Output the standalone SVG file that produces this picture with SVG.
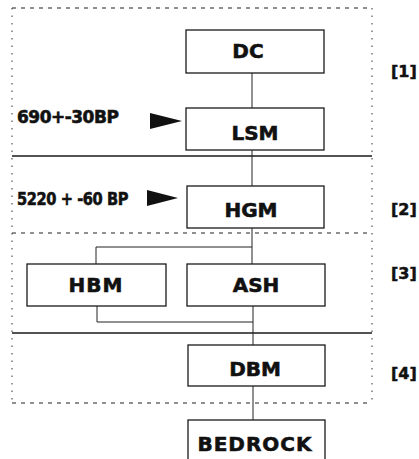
<svg xmlns="http://www.w3.org/2000/svg" width="419" height="459" viewBox="0 0 419 459">
<style>
.bg{fill:#ffffff}
.box{fill:#ffffff;stroke:#1a1a1a;stroke-width:1.3}
.lbl{font-family:"DejaVu Sans",sans-serif;font-weight:bold;font-size:20px;fill:#111;stroke:#111;stroke-width:0.6;text-anchor:middle}
.side{font-family:"DejaVu Sans",sans-serif;font-weight:bold;font-size:16px;fill:#111;stroke:#111;stroke-width:0.5}
.date{font-family:"DejaVu Sans",sans-serif;font-weight:bold;font-size:17px;fill:#111;stroke:#111;stroke-width:0.6;letter-spacing:-0.5px}
.conn{fill:none;stroke:#222;stroke-width:1}
.dashh{fill:none;stroke:#222;stroke-width:1.2;stroke-dasharray:4 5}
.doth{fill:none;stroke:#333;stroke-width:1;stroke-dasharray:1.5 6}
.solid{fill:none;stroke:#1a1a1a;stroke-width:1.4}
.arrow{fill:#111}
</style>
<rect class="bg" x="0" y="0" width="419" height="459"/>
<g id="frame">
<line class="dashh" x1="12" y1="8" x2="372" y2="8"/>
<line class="doth" x1="12" y1="8" x2="12" y2="403"/>
<line class="doth" x1="372" y1="8" x2="372" y2="403"/>
<line class="solid" x1="12" y1="156" x2="372" y2="156"/>
<line class="dashh" x1="12" y1="233" x2="372" y2="233"/>
<line class="solid" x1="12" y1="333" x2="372" y2="333"/>
<line class="dashh" x1="12" y1="403" x2="372" y2="403"/>
</g>
<g id="connectors">
<line class="conn" x1="252" y1="73" x2="252" y2="108"/>
<line class="conn" x1="252" y1="150" x2="252" y2="186"/>
<line class="conn" x1="252" y1="228" x2="252" y2="264"/>
<polyline class="conn" points="96,264 96,247 252,247"/>
<polyline class="conn" points="97,306 97,322 253,322"/>
<line class="conn" x1="253" y1="306" x2="253" y2="345"/>
<line class="conn" x1="253" y1="386" x2="253" y2="420"/>
</g>
<g id="DC"><rect class="box" x="186" y="30" width="138" height="43"/><text class="lbl" x="248" y="58">DC</text></g>
<g id="LSM"><rect class="box" x="186" y="108" width="138" height="42"/><text class="lbl" x="255" y="140">LSM</text></g>
<g id="HGM"><rect class="box" x="187" y="186" width="137" height="42"/><text class="lbl" x="251" y="217">HGM</text></g>
<g id="HBM"><rect class="box" x="27" y="264" width="139" height="42"/><text class="lbl" x="96" y="292" letter-spacing="1">HBM</text></g>
<g id="ASH"><rect class="box" x="187" y="264" width="138" height="42"/><text class="lbl" x="256" y="292">ASH</text></g>
<g id="DBM"><rect class="box" x="188" y="345" width="137" height="41"/><text class="lbl" x="255" y="376">DBM</text></g>
<g id="BEDROCK"><rect class="box" x="188" y="420" width="137" height="50"/><text class="lbl" x="255" y="451" letter-spacing="1">BEDROCK</text></g>
<g id="date1">
<text class="date" x="17" y="123">690+-30BP</text>
<polygon class="arrow" points="150,113 182,121 150,129"/>
</g>
<g id="date2">
<text class="date" x="17" y="205" textLength="111" lengthAdjust="spacingAndGlyphs">5220 + -60 BP</text>
<polygon class="arrow" points="147,190 178,198 147,206"/>
</g>
<g id="labels">
<text class="side" x="391" y="77">[1]</text>
<text class="side" x="391" y="215">[2]</text>
<text class="side" x="391" y="279">[3]</text>
<text class="side" x="391" y="379">[4]</text>
</g>
</svg>
